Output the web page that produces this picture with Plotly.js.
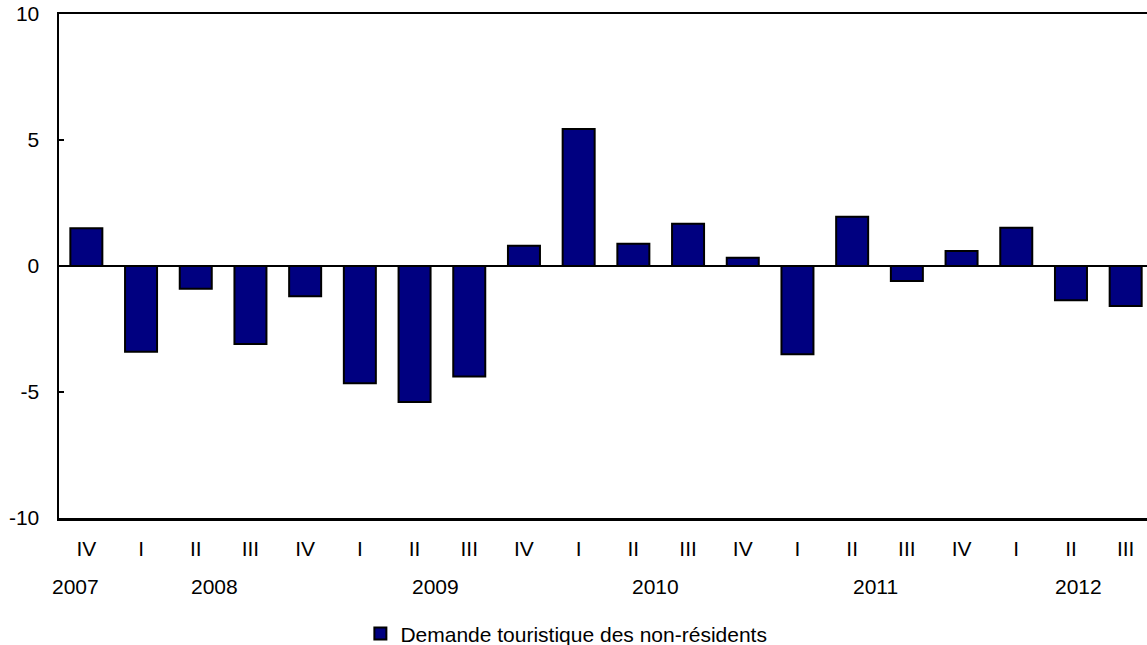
<!DOCTYPE html>
<html>
<head>
<meta charset="utf-8">
<script src="https://cdn.plot.ly/plotly-3.0.1.min.js"></script>
<style>html,body{margin:0;padding:0;background:#fff;}#chart{width:1147px;height:645px;}</style>
</head>
<body>
<div id="chart"></div>
<script>
var quarters = ["IV","I","II","III","IV","I","II","III","IV","I","II","III","IV","I","II","III","IV","I","II","III"];
var values = [1.5, -3.4, -0.9, -3.1, -1.2, -4.65, -5.4, -4.38, 0.8, 5.44, 0.88, 1.68, 0.33, -3.5, 1.95, -0.6, 0.6, 1.52, -1.36, -1.59];
var years = ["2007","2008","2009","2010","2011","2012"];
var seriesName = "Demande touristique des non-résidents";
var yTicks = [-10, -5, 0, 5, 10];

var idx = quarters.map(function(_, i){ return i; });
var yearPos = [-0.19, 2.35, 6.39, 10.41, 14.42, 18.13];

var font = {family: "Liberation Sans, Arial, sans-serif", size: 21, color: "#000"};

var trace = {
  type: "bar",
  x: idx,
  y: values,
  width: 0.585,
  name: seriesName,
  marker: {color: "#000080", line: {color: "#000", width: 2}},
  showlegend: true
};

var annotations = years.map(function(y, i){
  return {x: yearPos[i], xref: "x", y: -0.135, yref: "paper", text: y, showarrow: false,
          xanchor: "center", yanchor: "middle", font: font};
});

var layout = {
  width: 1147, height: 645,
  margin: {l: 59, r: 0, t: 14, b: 127, autoexpand: false},
  paper_bgcolor: "#fff", plot_bgcolor: "#fff",
  font: font,
  xaxis: {
    range: [-0.5, 19.39],
    tickmode: "array", tickvals: idx, ticktext: quarters,
    ticks: "", showgrid: false, zeroline: false,
    showline: true, linecolor: "#000", linewidth: 2.5, mirror: true,
    ticklabelstandoff: 10,
    tickfont: font, fixedrange: true, automargin: false
  },
  yaxis: {
    range: [-10, 10],
    tickmode: "array", tickvals: yTicks, ticktext: yTicks.map(String),
    ticks: "inside", ticklen: 5, tickwidth: 2, tickcolor: "#000",
    showgrid: false, zeroline: true, zerolinecolor: "#000", zerolinewidth: 2,
    showline: true, linecolor: "#000", linewidth: 2.5, mirror: false,
    ticklabelstandoff: 13,
    tickfont: font, fixedrange: true, automargin: false
  },
  showlegend: true,
  legend: {orientation: "h", x: 0.277, xanchor: "left", y: -0.23, yanchor: "middle",
           font: font, bgcolor: "rgba(0,0,0,0)"},
  annotations: annotations
};

Plotly.newPlot("chart", [trace], layout, {displayModeBar: false, staticPlot: true});
</script>
</body>
</html>
